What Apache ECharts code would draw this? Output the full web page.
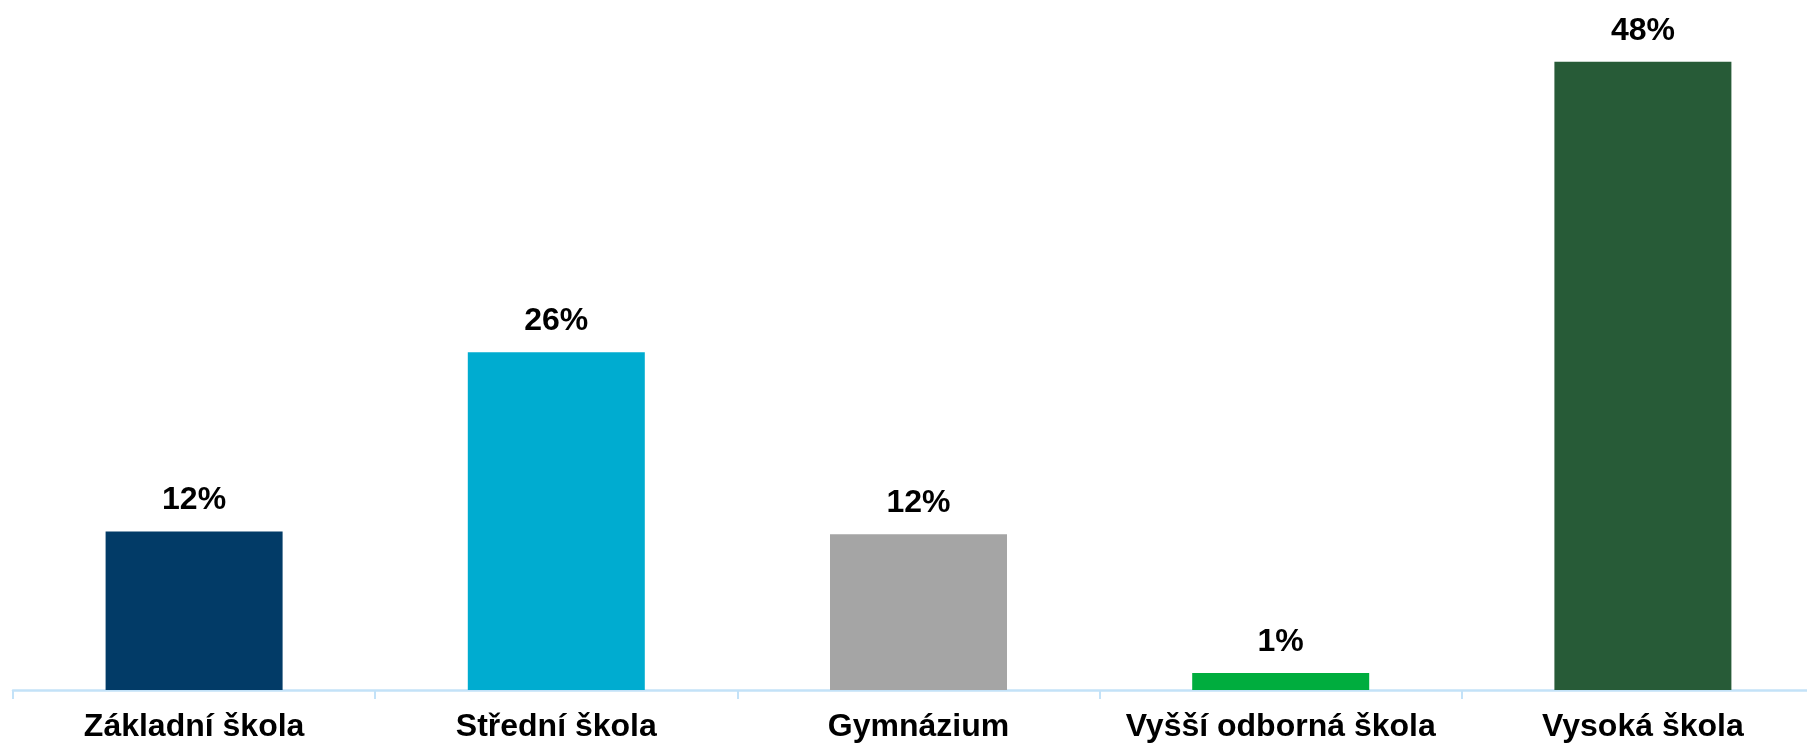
<!DOCTYPE html>
<html>
<head>
<meta charset="utf-8">
<script src="https://cdn.jsdelivr.net/npm/echarts@6/dist/echarts.min.js"></script>
<style>
  html, body { margin: 0; padding: 0; background: #fff; }
  #chart { width: 1807px; height: 748px; }
</style>
</head>
<body>
<div id="chart"></div>
<script>
// categories and values (percent)
var categories = ['Základní škola', 'Střední škola', 'Gymnázium', 'Vyšší odborná škola', 'Vysoká škola']
var values = [12.1, 25.8, 11.9, 1.3, 48.0]
var barColors = ['#023B67', '#00ACD0', '#A5A5A5', '#00AD3E', '#275B37']

var chart = echarts.init(document.getElementById('chart'))

chart.setOption({
  animation: false,
  grid: {
    left: 13,
    width: 1811,
    top: 35.5,
    bottom: 58,
    outerBoundsMode: 'none'
  },
  xAxis: {
    type: 'category',
    data: categories,
    axisLine: {
      show: true,
      lineStyle: { color: '#C3E2F8', width: 2.5 }
    },
    axisTick: {
      show: true,
      interval: 0,
      length: 9,
      lineStyle: { color: '#C3E2F8', width: 2 }
    },
    axisLabel: {
      interval: 0,
      margin: 21,
      color: '#000',
      fontFamily: 'Liberation Sans, Arial, sans-serif',
      fontWeight: 'bold',
      fontSize: 32
    }
  },
  yAxis: {
    type: 'value',
    min: 0,
    max: 50,
    show: false,
    splitLine: { show: false }
  },
  series: [{
    type: 'bar',
    barWidth: 177,
    data: values.map(function (v, i) {
      return { value: v, itemStyle: { color: barColors[i] } }
    }),
    label: {
      show: true,
      position: 'top',
      distance: 15,
      color: '#000',
      fontFamily: 'Liberation Sans, Arial, sans-serif',
      fontWeight: 'bold',
      fontSize: 32,
      formatter: function (p) {
        return Math.round(p.value) + '%'
      }
    }
  }]
})
</script>
</body>
</html>
